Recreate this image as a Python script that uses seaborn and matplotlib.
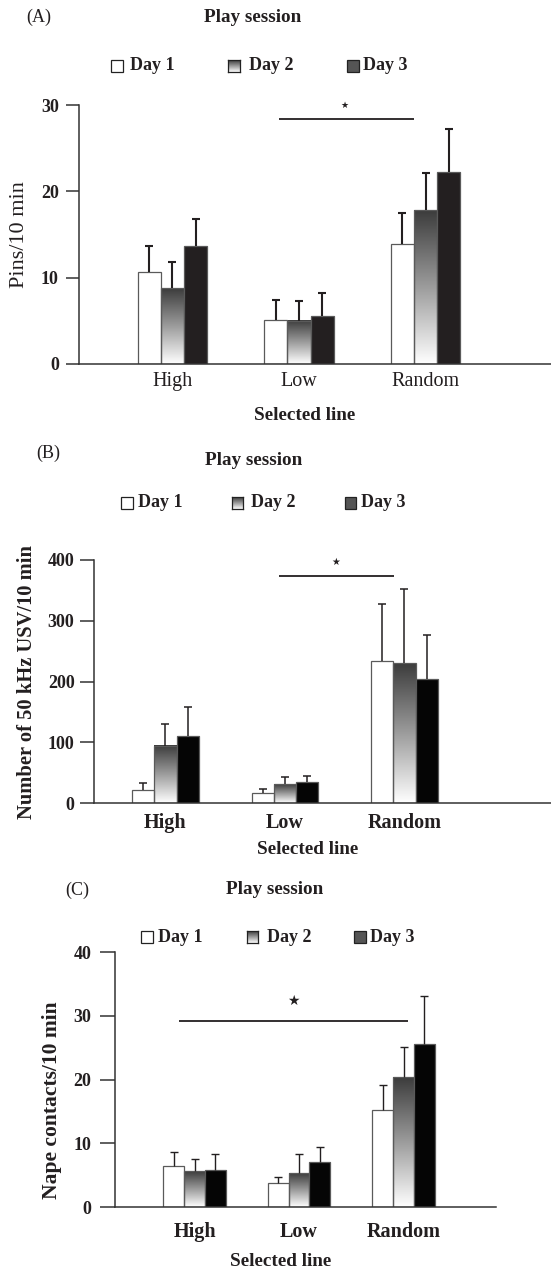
import numpy as np
import pandas as pd
import matplotlib
matplotlib.use("Agg")
import matplotlib.pyplot as plt
from matplotlib.colors import LinearSegmentedColormap
from matplotlib.patches import Rectangle
import seaborn as sns

# ---------------------------------------------------------------- data
lines = ["High", "Low", "Random"]
days = ["Day 1", "Day 2", "Day 3"]

# (A) pins per 10 min: mean and SEM per selected line
pins_day1 = [10.7, 5.1, 13.9]
pins_day2 = [8.8, 5.0, 17.8]
pins_day3 = [13.7, 5.6, 22.2]
pins_sem_day1 = [3.0, 2.3, 3.6]
pins_sem_day2 = [3.0, 2.3, 4.3]
pins_sem_day3 = [3.1, 2.6, 5.0]
pins_ticks = [0, 10, 20, 30]

# (B) 50 kHz ultrasonic vocalisations per 10 min
usv_day1 = [22, 17, 234]
usv_day2 = [94, 31, 230]
usv_day3 = [111, 35, 205]
usv_sem_day1 = [11, 6.5, 94]
usv_sem_day2 = [36, 13, 123]
usv_sem_day3 = [47, 10, 71]
usv_ticks = [0, 100, 200, 300, 400]

# (C) nape contacts per 10 min
nape_day1 = [6.5, 3.8, 15.3]
nape_day2 = [5.6, 5.3, 20.4]
nape_day3 = [5.8, 7.1, 25.6]
nape_sem_day1 = [2.2, 0.85, 3.8]
nape_sem_day2 = [1.9, 3.0, 4.8]
nape_sem_day3 = [2.5, 2.4, 7.5]
nape_ticks = [0, 10, 20, 30, 40]

# significance bracket heights (in data units)
pins_sig_level = 28.35
usv_sig_level = 374
nape_sig_level = 29.2

# ---------------------------------------------------------------- style
sns.set_theme(style="ticks")
plt.rcParams["font.family"] = ["Liberation Serif", "DejaVu Sans"]
INK = "#231f20"
AXIS = "#333333"
day2_cmap = LinearSegmentedColormap.from_list("day2", ["#3c3c3c", "#9c9c9c", "#ffffff"])
GRAD = np.linspace(0, 1, 256).reshape(-1, 1)

W, H = 551, 1270
fig = plt.figure(figsize=(W / 100, H / 100), dpi=100)


def fx(px):
    return px / W


def fy(py):
    return 1 - py / H


def make_axes(left, right, y_zero, y_top):
    return fig.add_axes([fx(left), fy(y_zero), (right - left) / W, (y_zero - y_top) / H])


def draw_panel(ax, means, sems, ticks, xlim, width, dark, err_lw, capsize,
               tick_len, tick_pad, xpad, ylabel, ylabel_xy, ylabel_bold,
               ylabel_size, xtick_bold, sig, star_size=6.5, label_size=14.5,
               ytick_size=13):
    df = pd.DataFrame({
        "line": lines * 3,
        "day": np.repeat(days, 3),
        "value": np.concatenate(means),
    })
    sns.barplot(data=df, x="line", y="value", hue="day", order=lines,
                hue_order=days, palette=["white", "#8c8c8c", dark],
                saturation=1, width=width, errorbar=None, edgecolor="#5a5a5a",
                linewidth=0.9, legend=False, ax=ax)
    bar_sets = list(ax.containers)

    # Day 2 bars get a vertical dark-to-white fill
    for bar in bar_sets[1]:
        x0, w, h = bar.get_x(), bar.get_width(), bar.get_height()
        ax.imshow(GRAD, cmap=day2_cmap, extent=(x0, x0 + w, 0, h),
                  origin="upper", aspect="auto", interpolation="bilinear",
                  zorder=bar.get_zorder() - 0.05)
        bar.set_facecolor("none")

    # upper SEM whiskers (no cap at the bar top)
    for bars, sem in zip(bar_sets, sems):
        xs = [b.get_x() + b.get_width() / 2 for b in bars]
        ys = [b.get_height() for b in bars]
        _, caps, _ = ax.errorbar(xs, ys, yerr=[np.zeros(len(sem)), sem],
                                 fmt="none", ecolor=INK, elinewidth=err_lw,
                                 capsize=capsize, capthick=err_lw, zorder=3)
        caps[0].set_visible(False)

    # significance bracket with star
    (sx0, sx1, sy, star_x, star_y) = sig
    ax.plot([sx0, sx1], [sy, sy], color=INK, lw=1.3, solid_capstyle="butt")
    ax.text(star_x, star_y, "\u2605", fontfamily="DejaVu Sans",
            fontsize=star_size, ha="center", va="center", color=INK)

    ax.set_xlim(*xlim)
    ax.set_ylim(ticks[0], ticks[-1])
    ax.set_yticks(ticks)
    ax.set_yticklabels([str(t) for t in ticks], fontweight="bold")
    for s in ("top", "right"):
        ax.spines[s].set_visible(False)
    for s in ("left", "bottom"):
        ax.spines[s].set_color(AXIS)
        ax.spines[s].set_linewidth(1.1)
    ax.tick_params(axis="y", length=tick_len, width=1.1, color=AXIS,
                   pad=tick_pad, labelsize=ytick_size, labelcolor=INK)
    ax.tick_params(axis="x", length=0, pad=xpad, labelsize=label_size,
                   labelcolor=INK)
    for lab in ax.get_xticklabels():
        lab.set_fontweight("bold" if xtick_bold else "normal")
    ax.set_xlabel("")
    ax.set_ylabel(ylabel, fontsize=ylabel_size,
                  fontweight="bold" if ylabel_bold else "normal", color=INK)
    ax.yaxis.set_label_coords(*ylabel_xy)
    ax.yaxis.label.set_va("center")
    ax.set_facecolor("none")


def draw_legend(y, square_x, text_x, size=11.5, fontsize=13):
    half = size / 2
    # Day 1: open square
    fig.add_artist(Rectangle((fx(square_x[0] - half), fy(y + half)), size / W,
                             size / H, transform=fig.transFigure,
                             facecolor="white", edgecolor="#222222", lw=0.9))
    # Day 2: graded square
    lax = fig.add_axes([fx(square_x[1] - half), fy(y + half), size / W, size / H])
    lax.imshow(GRAD, cmap=day2_cmap, origin="upper", aspect="auto",
               extent=(0, 1, 0, 1), interpolation="bilinear")
    lax.set_xticks([])
    lax.set_yticks([])
    for sp in lax.spines.values():
        sp.set_color("#222222")
        sp.set_linewidth(0.9)
    # Day 3: dark square
    fig.add_artist(Rectangle((fx(square_x[2] - half), fy(y + half)), size / W,
                             size / H, transform=fig.transFigure,
                             facecolor="#555555", edgecolor="#222222", lw=0.9))
    for tx, label in zip(text_x, days):
        fig.text(fx(tx), fy(y), label, ha="left", va="center",
                 fontsize=fontsize, fontweight="bold", color=INK)


def header(letter, letter_xy, title_xy, xlabel_xy, fontsize=13.8):
    fig.text(fx(letter_xy[0]), fy(letter_xy[1]), letter, ha="center",
             va="center", fontsize=13, color=INK)
    fig.text(fx(title_xy[0]), fy(title_xy[1]), "Play session", ha="center",
             va="center", fontsize=fontsize, fontweight="bold", color=INK)
    fig.text(fx(xlabel_xy[0]), fy(xlabel_xy[1]), "Selected line", ha="center",
             va="center", fontsize=fontsize, fontweight="bold", color=INK)


# ---------------------------------------------------------------- (A)
ax_a = make_axes(79, 551, 364, 105)
draw_panel(ax_a, [pins_day1, pins_day2, pins_day3],
           [pins_sem_day1, pins_sem_day2, pins_sem_day3], pins_ticks,
           xlim=(-0.739, 2.992), width=0.553, dark="#231f20", err_lw=1.5,
           capsize=3.2, tick_len=9.5, tick_pad=5, xpad=6,
           ylabel="Pins/10 min", ylabel_xy=(-0.125, 0.5), ylabel_bold=False,
           ylabel_size=16, xtick_bold=False,
           sig=(0.842, 1.909, pins_sig_level, 1.356, 30.0))
header("(A)", (39, 17), (253, 17), (305, 416))
draw_legend(66, (117, 234, 353), (130, 249, 363))

# ---------------------------------------------------------------- (B)
ax_b = make_axes(94, 551, 803.3, 560)
draw_panel(ax_b, [usv_day1, usv_day2, usv_day3],
           [usv_sem_day1, usv_sem_day2, usv_sem_day3], usv_ticks,
           xlim=(-0.598, 3.226), width=0.56, dark="#050505", err_lw=1.1,
           capsize=3.0, tick_len=10, tick_pad=4, xpad=7,
           ylabel="Number of 50 kHz USV/10 min", ylabel_xy=(-0.147, 0.5),
           ylabel_bold=True, ylabel_size=14.8, xtick_bold=True,
           sig=(0.950, 1.912, usv_sig_level, 1.427, 396), star_size=7)
header("(B)", (48, 453), (254, 461), (308, 850))
draw_legend(503, (127, 237.5, 350.5), (138, 251, 361))

# ---------------------------------------------------------------- (C)
ax_c = make_axes(115, 496, 1207, 952.3)
draw_panel(ax_c, [nape_day1, nape_day2, nape_day3],
           [nape_sem_day1, nape_sem_day2, nape_sem_day3], nape_ticks,
           xlim=(-0.761, 2.885), width=0.594, dark="#050505", err_lw=1.0,
           capsize=2.8, tick_len=11, tick_pad=6, xpad=11,
           ylabel="Nape contacts/10 min", ylabel_xy=(-0.165, 0.42),
           ylabel_bold=True, ylabel_size=15.5, xtick_bold=True,
           sig=(-0.148, 2.043, nape_sig_level, 0.943, 32.4), star_size=10)
header("(C)", (77.5, 890), (275, 890), (280.5, 1262))
draw_legend(937, (147, 252.5, 360), (158, 267, 370))

fig.savefig("out.png", dpi=100, facecolor="white")
